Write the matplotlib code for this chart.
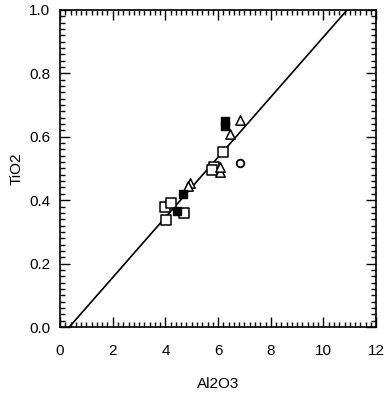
import matplotlib
matplotlib.use("Agg")
import matplotlib.pyplot as plt
from matplotlib.ticker import MultipleLocator

plt.rcParams['font.family'] = ['Liberation Sans', 'DejaVu Sans']

# open squares
sq_x = [4.03, 4.0, 4.21, 4.69, 5.83, 5.77, 6.19]
sq_y = [0.338, 0.38, 0.39, 0.359, 0.506, 0.495, 0.553]
# filled squares
fsq_x = [4.44, 4.65, 6.28, 6.28]
fsq_y = [0.367, 0.42, 0.65, 0.635]
# open triangles
tri_x = [4.92, 4.84, 6.06, 6.08, 6.44, 6.84]
tri_y = [0.453, 0.445, 0.49, 0.506, 0.609, 0.653]
# open circle
circ_x = [6.82]
circ_y = [0.516]

# regression line endpoints
line_x = [0.35, 10.9]
line_y = [0.0, 1.0]

fig = plt.figure(figsize=(3.85, 3.95), dpi=100)
ax = fig.add_axes([0.156, 0.172, 0.821, 0.803])

ax.plot(line_x, line_y, color='black', lw=1.2)
ax.scatter(sq_x, sq_y, marker='s', s=50, facecolors='white', edgecolors='black', linewidths=1.1, zorder=3)
ax.scatter(fsq_x, fsq_y, marker='s', s=40, facecolors='black', edgecolors='black', zorder=4)
ax.scatter(tri_x, tri_y, marker='^', s=45, facecolors='white', edgecolors='black', linewidths=1.1, zorder=3)
ax.scatter(circ_x, circ_y, marker='o', s=30, facecolors='white', edgecolors='black', linewidths=1.3, zorder=3)

ax.set_xlim(0, 12)
ax.set_ylim(0, 1.0)
ax.xaxis.set_major_locator(MultipleLocator(2))
ax.xaxis.set_minor_locator(MultipleLocator(0.2))
ax.yaxis.set_major_locator(MultipleLocator(0.2))
ax.yaxis.set_minor_locator(MultipleLocator(0.02))
ax.xaxis.set_major_formatter(plt.FormatStrFormatter('%d'))
ax.yaxis.set_major_formatter(plt.FormatStrFormatter('%.1f'))
ax.tick_params(which='both', direction='in', top=True, right=True, width=1.0, labelsize=11)
ax.tick_params(which='major', length=7)
ax.tick_params(which='minor', length=3.5)
ax.tick_params(axis='x', which='major', pad=12)
ax.tick_params(axis='y', which='major', pad=7)
for s in ax.spines.values():
    s.set_linewidth(1.2)

ax.set_xlabel('Al2O3', fontsize=11, labelpad=14)
ax.set_ylabel('TiO2', fontsize=11, labelpad=4)

fig.savefig('out.png', dpi=100)
